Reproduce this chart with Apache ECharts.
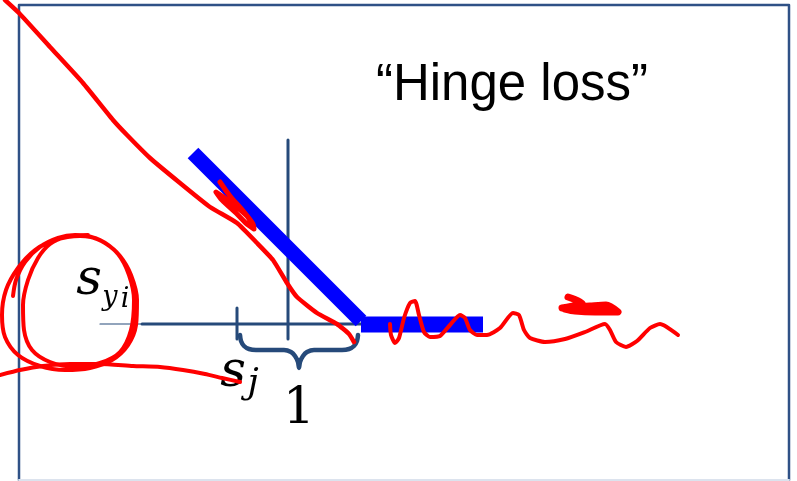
<!DOCTYPE html>
<html>
<head>
<meta charset="utf-8">
<script src="https://cdn.jsdelivr.net/npm/echarts@6/dist/echarts.min.js"></script>
<style>
  html, body { margin: 0; padding: 0; background: #fff; }
  #chart { width: 797px; height: 481px; }
</style>
</head>
<body>
<div id="chart"></div>
<script>
// all points are in slide coordinates (x right, y down)
const frameDark = [[19, 480], [19, 5], [789, 5], [789, 480]];
const frameBottom = [[19, 480], [789, 480]];

const axisThin = [[100, 324], [142, 324]];
const axisH = [[142, 324], [362, 324]];
const axisV = [[288, 140], [288, 339]];
const tickSj = [[237, 308], [237, 339]];

const hingeSlope = [[193, 153], [361, 321]];
const hingeFlat = [[361, 324.5], [483, 324.5]];

const brace = [
  [240, 335], [241, 341], [244, 346], [249, 349], [256, 350], [284, 350],
  [291, 352], [295, 356], [298, 362], [299, 368], [300, 362], [303, 356],
  [307, 352], [314, 350], [342, 350], [349, 349], [354, 346], [357, 341], [358, 335]
];

// red pen annotations
const penLong = [
  [5, 0], [19, 13], [50, 47], [83, 83], [113, 120], [127, 135], [150, 158],
  [180, 183], [210, 207], [237, 223], [257, 243], [273, 260], [287, 283],
  [297, 297], [317, 313], [337, 324], [349, 334], [354, 342]
];
const penBlob = [
  [220, 182], [230, 196], [244, 212], [253, 224], [254, 229], [248, 225],
  [236, 213], [222, 200], [216, 192], [222, 196], [234, 205], [247, 216], [253, 226]
];
const penCircle = [
  [13, 296], [16, 280], [25, 262], [40, 247], [58, 238], [75, 235], [88, 236],
  [105, 243], [120, 256], [131, 275], [137, 300], [136, 325], [128, 345],
  [112, 360], [90, 368], [65, 370], [40, 366], [18, 355], [5, 337], [2, 315],
  [6, 290], [18, 268], [35, 250], [55, 240], [80, 236], [100, 240], [118, 254],
  [129, 275], [134, 300], [131, 330], [120, 352], [100, 363], [75, 367],
  [50, 362], [32, 350], [24, 330], [23, 305], [28, 280], [38, 258], [50, 244],
  [65, 237], [88, 235]
];
const penTail = [
  [0, 375], [20, 370], [43, 366], [70, 364], [100, 364], [133, 366], [160, 367],
  [183, 370], [205, 374], [222, 378], [240, 382]
];
const penWave = [
  [390, 324], [391, 335], [395, 343], [399, 338], [404, 318], [410, 303],
  [415, 301], [419, 315], [424, 332], [430, 337], [440, 336], [450, 325],
  [460, 315], [465, 318], [470, 330], [477, 335], [487, 335], [500, 328],
  [513, 313], [519, 315], [524, 330], [530, 338], [545, 342], [565, 339],
  [585, 332], [605, 324], [610, 330], [616, 342], [626, 347], [637, 341],
  [650, 328], [660, 324], [678, 335]
];
const penDash = [
  [568, 297], [582, 303], [562, 308], [590, 306], [606, 305], [618, 312],
  [595, 312], [575, 311], [565, 309]
];

// text labels: [x, y, text]
const titleText = [[512, 86, '\u201cHinge loss\u201d']];
const mathS = [[89, 281, 's'], [233, 373, 's']];
const mathSub = [[110, 298, 'y'], [125, 300, 'i']];
const mathJ = [[253, 384, 'j']];
const mathOne = [[299, 410, '1']];

const navy = '#264a7a';
const blue = '#0000ff';
const red = '#ff0000';

function stroke(data, color, width, smooth, z, cap) {
  return {
    type: 'line', data: data, showSymbol: false, smooth: smooth || false,
    lineStyle: { color: color, width: width, cap: cap || 'round', join: 'round' },
    silent: true, animation: false, z: z || 2
  };
}

function labels(data, font, z) {
  return {
    type: 'scatter', symbolSize: 0, silent: true, animation: false, z: z || 3,
    itemStyle: { opacity: 1 },
    data: data.map(d => ({ value: [d[0], d[1]], name: d[2] })),
    label: Object.assign({
      show: true, position: 'inside', align: 'center', verticalAlign: 'middle',
      color: '#000', opacity: 1, formatter: p => p.name
    }, font)
  };
}

const chart = echarts.init(document.getElementById('chart'), null, { renderer: 'canvas' });

chart.setOption({
  backgroundColor: '#fff',
  animation: false,
  grid: { left: 0, top: 0, right: 0, bottom: 0 },
  xAxis: { type: 'value', min: 0, max: 797, show: false },
  yAxis: { type: 'value', min: 0, max: 481, inverse: true, show: false },
  series: [
    stroke(frameDark, '#2f5186', 2.5),
    stroke(frameBottom, '#dce3ee', 2),
    stroke(axisThin, navy, 1.2),
    stroke(axisH, navy, 3),
    stroke(axisV, navy, 3),
    stroke(tickSj, navy, 3),
    stroke(brace, navy, 4.5, 0.3),
    stroke(hingeSlope, blue, 15, false, 4, 'butt'),
    stroke(hingeFlat, blue, 16, false, 4, 'butt'),
    labels(titleText, { fontFamily: 'Liberation Sans', fontSize: 51 }),
    labels(mathS, { fontFamily: 'DejaVu Serif', fontStyle: 'italic', fontSize: 50 }),
    labels(mathSub, { fontFamily: 'DejaVu Serif', fontStyle: 'italic', fontSize: 27 }),
    labels(mathJ, { fontFamily: 'DejaVu Serif', fontStyle: 'italic', fontSize: 36 }),
    labels(mathOne, { fontFamily: 'DejaVu Serif', fontSize: 50 }),
    stroke(penLong, red, 4.5, 0.15, 6),
    stroke(penBlob, red, 5, 0.3, 6),
    stroke(penCircle, red, 4, 0.3, 6),
    stroke(penTail, red, 4, 0.2, 6),
    stroke(penWave, red, 4, 0.2, 6),
    stroke(penDash, red, 7, 0.3, 6)
  ]
});
</script>
</body>
</html>
